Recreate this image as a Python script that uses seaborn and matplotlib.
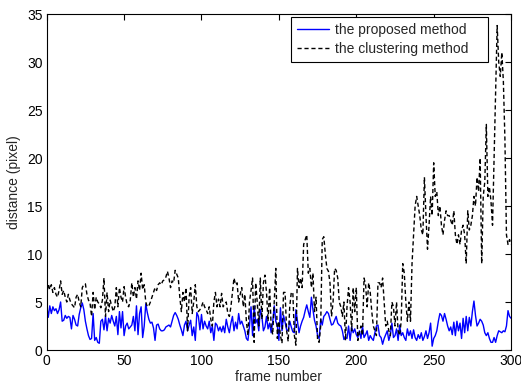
import numpy as np
import pandas as pd
import matplotlib
matplotlib.use("Agg")
import matplotlib.pyplot as plt
import seaborn as sns

proposed = [
    4.7, 3.4, 4.6, 3.8, 4.5, 4.1, 4.3, 3.8, 4.2, 5.0,
    3.0, 3.1, 3.6, 3.3, 3.5, 3.4, 2.2, 3.6, 3.2, 2.6,
    2.5, 3.7, 4.4, 4.9, 4.2, 3.0, 2.2, 1.5, 1.1, 1.2,
    3.8, 1.0, 1.3, 0.8, 0.7, 3.0, 3.2, 2.1, 3.5, 2.0,
    3.3, 2.8, 3.6, 3.0, 2.5, 3.5, 1.6, 4.0, 2.3, 4.0,
    1.5, 2.5, 2.8, 2.2, 2.4, 2.6, 3.5, 2.0, 4.6, 1.6,
    3.8, 4.5, 1.3, 2.5, 4.8, 3.9, 3.2, 2.8, 2.9, 2.3,
    1.0, 2.6, 2.7, 2.2, 2.0, 2.0, 2.1, 2.4, 2.5, 2.6,
    2.4, 3.0, 3.6, 3.9, 3.6, 3.2, 2.6, 2.1, 1.5, 2.6,
    3.0, 2.0, 2.6, 3.1, 1.5, 2.4, 1.0, 3.9, 3.5, 2.1,
    3.7, 2.2, 3.0, 2.5, 2.2, 3.0, 1.8, 2.5, 1.0, 2.8,
    2.6, 2.0, 2.4, 1.9, 2.5, 1.8, 3.2, 2.4, 1.8, 2.8,
    3.5, 2.0, 2.9, 2.2, 3.8, 2.7, 3.0, 2.5, 2.0, 1.2,
    1.0, 2.5, 4.5, 1.5, 4.6, 2.8, 3.2, 2.0, 4.2, 3.5,
    2.0, 2.4, 3.5, 2.2, 2.8, 1.8, 2.9, 4.6, 3.0, 2.5,
    1.0, 4.4, 2.0, 3.6, 2.9, 2.1, 2.0, 3.0, 2.4, 1.9,
    1.8, 4.2, 3.0, 1.8, 2.5, 3.0, 3.4, 4.1, 4.7, 4.0,
    3.4, 5.5, 4.2, 3.1, 2.5, 1.5, 1.2, 3.2, 2.6, 3.5,
    3.7, 4.0, 3.8, 3.2, 2.6, 2.7, 3.1, 3.5, 2.8, 2.6,
    2.5, 2.0, 1.1, 1.3, 1.2, 2.5, 1.0, 2.4, 1.8, 2.2,
    1.6, 1.3, 2.0, 1.2, 2.5, 1.3, 1.6, 2.0, 1.0, 1.5,
    1.2, 1.0, 1.8, 2.5, 2.6, 1.5, 1.3, 0.6, 1.2, 1.6,
    2.0, 1.0, 1.6, 2.8, 1.3, 1.5, 2.2, 1.0, 2.6, 1.5,
    1.8, 1.3, 1.0, 2.2, 1.5, 2.0, 1.2, 2.1, 1.3, 1.0,
    1.6, 1.2, 1.8, 1.0, 1.4, 2.0, 1.2, 1.8, 2.8, 0.4,
    1.2, 1.5, 2.0, 3.0, 3.8, 3.6, 3.0, 3.8, 3.2, 2.5,
    2.0, 2.4, 1.6, 2.9, 1.5, 3.0, 2.0, 2.8, 1.2, 3.3,
    1.8, 3.5, 2.0, 3.4, 2.5, 4.0, 5.1, 3.6, 2.5, 2.8,
    3.2, 3.0, 2.6, 1.8, 1.5, 1.8, 1.2, 0.8, 0.8, 1.3,
    0.8, 1.5, 2.0, 1.9, 1.8, 2.0, 1.9, 2.5, 4.1, 3.5, 3.3,
]

clustering = [
    5.6, 6.9, 6.3, 6.8, 6.0, 6.5, 5.8, 5.5, 6.2, 7.2,
    5.8, 6.2, 5.5, 5.0, 5.8, 5.2, 4.8, 4.6, 4.4, 5.5,
    5.8, 5.0, 4.5, 6.5, 6.8, 6.9, 5.8, 5.2, 4.9, 3.5,
    6.0, 4.2, 5.5, 5.0, 4.8, 4.4, 5.2, 7.5, 3.5, 6.0,
    4.0, 5.2, 4.6, 4.0, 4.5, 6.5, 4.5, 6.5, 5.5, 5.0,
    6.6, 5.5, 4.7, 4.5, 5.2, 7.0, 5.5, 6.5, 5.3, 7.2,
    6.2, 8.0, 6.3, 6.8, 5.0, 4.5, 4.6, 5.0, 5.5, 6.0,
    6.5, 6.2, 6.8, 7.0, 6.8, 7.2, 7.3, 7.6, 8.2, 7.5,
    6.5, 7.2, 7.0, 8.3, 7.9, 7.5, 5.5, 4.0, 6.0, 5.0,
    6.5, 2.0, 5.5, 6.5, 3.8, 5.0, 6.8, 4.5, 4.0, 4.2,
    4.5, 5.0, 4.5, 4.2, 3.8, 4.5, 3.2, 2.5, 5.0, 6.0,
    4.5, 5.3, 4.5, 5.9, 4.5, 4.8, 5.0, 3.8, 3.5, 4.5,
    6.0, 7.5, 6.8, 7.0, 5.0, 5.8, 6.5, 4.5, 5.8, 3.0,
    1.5, 5.0, 6.2, 7.5, 0.8, 7.0, 5.0, 2.5, 7.5, 3.2,
    7.0, 7.8, 6.0, 3.0, 6.5, 2.5, 1.6, 5.0, 8.5, 1.2,
    3.0, 1.5, 0.7, 6.0, 6.0, 2.0, 0.9, 4.5, 6.0, 6.0,
    1.5, 0.5, 8.5, 6.5, 7.5, 6.5, 11.0, 11.5, 12.0, 8.0,
    8.5, 6.5, 8.0, 4.0, 5.5, 1.0, 0.8, 2.5, 11.5, 11.8,
    10.0, 8.5, 8.2, 7.0, 3.5, 5.0, 8.5, 8.3, 7.5, 5.0,
    4.5, 3.5, 5.0, 1.0, 4.5, 6.5, 5.0, 2.0, 6.5, 4.0,
    6.5, 1.0, 1.8, 2.5, 1.5, 7.5, 6.8, 4.5, 7.0, 6.0,
    4.0, 2.5, 2.0, 1.5, 7.0, 7.0, 6.5, 7.5, 5.0, 2.5,
    3.0, 2.0, 1.5, 5.0, 4.5, 2.5, 5.0, 2.0, 1.5, 3.0,
    9.0, 8.0, 5.0, 3.0, 5.0, 3.0, 9.0, 12.0, 15.0, 16.0,
    15.0, 14.0, 12.5, 12.0, 18.0, 14.0, 10.5, 13.0, 16.0, 14.0,
    19.5, 16.0, 16.5, 14.0, 15.0, 13.0, 12.0, 13.5, 14.5, 14.0,
    14.0, 13.5, 13.0, 14.5, 12.0, 11.0, 12.0, 11.0, 12.5, 13.0,
    12.0, 9.0, 14.5, 12.5, 13.0, 14.0, 16.0, 15.0, 18.0, 16.5,
    20.0, 9.0, 16.0, 17.5, 23.5, 16.0, 17.0, 15.5, 13.0, 20.0,
    27.0, 33.8, 30.0, 28.5, 31.0, 28.0, 22.0, 12.0, 11.0, 11.5, 11.0,
]

series_names = ["the proposed method", "the clustering method"]
x_ticks = [0, 50, 100, 150, 200, 250, 300]
y_ticks = [0, 5, 10, 15, 20, 25, 30, 35]

frames = np.arange(len(proposed))
df = pd.DataFrame({
    "frame": np.concatenate([frames, frames]),
    "distance": proposed + clustering,
    "method": [series_names[0]] * len(proposed) + [series_names[1]] * len(clustering),
})

sns.set_style("white")
plt.rcParams["font.family"] = ["Liberation Sans", "DejaVu Sans"]

fig = plt.figure(figsize=(5.21, 3.85), dpi=100)
ax = fig.add_axes([0.0896, 0.0909, 0.8914, 0.8727])

sns.lineplot(data=df, x="frame", y="distance", hue="method", style="method",
             palette={series_names[0]: "#0000ff", series_names[1]: "black"},
             dashes={series_names[0]: "", series_names[1]: (3, 2)},
             linewidth=1.0, ax=ax, legend=True)

ax.set_xlim(0, 300)
ax.set_ylim(0, 35)
ax.set_xticks(x_ticks)
ax.set_yticks(y_ticks)
ax.tick_params(direction="in", top=True, right=True, length=4, width=0.8,
               labelsize=10, colors="black", pad=3)
for s in ax.spines.values():
    s.set_color("black")
    s.set_linewidth(0.8)
ax.set_xlabel("frame number", fontsize=10, labelpad=1)
ax.set_ylabel("distance (pixel)", fontsize=10, labelpad=4)

leg = ax.legend(loc="upper left", bbox_to_anchor=(0.526, 0.991, 0.424, 0.0),
                mode="expand", fontsize=10, frameon=True, fancybox=False,
                edgecolor="black", borderaxespad=0.0, handlelength=2.3,
                handletextpad=0.4, borderpad=0.45, labelspacing=0.35)
leg.get_frame().set_linewidth(0.8)
leg.get_frame().set_alpha(1.0)

fig.savefig("out.png", dpi=100)
